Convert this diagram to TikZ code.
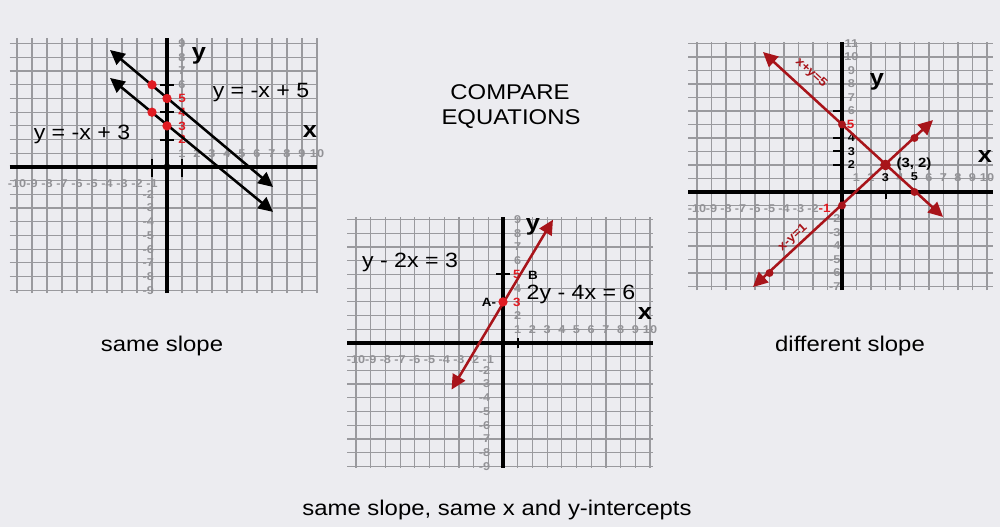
\documentclass[tikz,border=0pt]{standalone}
\usepackage{fontspec}
\setmainfont{Liberation Sans}[FakeStretch=1.12]
\usetikzlibrary{arrows.meta}
\definecolor{bg}{HTML}{ECECF0}
\definecolor{gridc}{HTML}{9A9A9E}
\definecolor{lbl}{HTML}{929296}
\definecolor{dred}{HTML}{A8141A}
\definecolor{bred}{HTML}{E01B22}
\tikzset{
  gridline/.style={gridc, line width=0.9pt},
  axisline/.style={black, line width=2.3pt},
  tickmark/.style={black, line width=1.5pt},
  numlbl/.style={text=lbl, font=\fontsize{8.5}{9}\selectfont\bfseries, inner sep=0pt},
  eqlbl/.style={font=\fontsize{15.5}{17}\selectfont, inner sep=0pt, anchor=base},
  axlbl/.style={font=\fontsize{17}{18}\selectfont\bfseries, inner sep=0pt, anchor=base},
  caption/.style={font=\fontsize{16}{18}\selectfont, inner sep=0pt, anchor=base},
  gline/.style={line width=1.9pt, {Triangle[length=11pt,width=10.5pt]}-{Triangle[length=11pt,width=10.5pt]}},
  rdot/.style={circle, fill=bred, inner sep=0pt, minimum size=7pt},
  ddot/.style={circle, fill=dred, inner sep=0pt, minimum size=6pt},
  smallbold/.style={font=\fontsize{9}{10}\selectfont\bfseries, inner sep=0pt},
  redlbl/.style={numlbl, text=bred, font=\fontsize{9}{10}\selectfont\bfseries},
  blklbl/.style={numlbl, text=black, font=\fontsize{8.5}{9}\selectfont\bfseries},
}
\begin{document}
\begin{tikzpicture}[x=0.75pt,y=-0.75pt]
\fill[bg] (0,0) rectangle (1000,527);
\useasboundingbox (0,0) rectangle (1000,527);

% ---------- Graph 1 ----------
\begin{scope}[shift={(167,167)}, x=11.25pt, y=10.275pt]
  \foreach \i in {-10,...,10} \draw[gridline] (\i,-9.2) -- (\i,9.42);
  \foreach \j in {-9,...,9} \draw[gridline] (-10.5,\j) -- (10,\j);
  \draw[axisline] (-10.5,0) -- (10,0);
  \draw[axisline] (0,-9.2) -- (0,9.42);
  \foreach \i in {1,...,10} \node[numlbl] (g1px\i) at (\i,1.0) {\i};
  \foreach \i in {-10,...,-1} \node[numlbl] (g1nx\i) at (\i,-1.2) {\i};
  \foreach \j in {6,...,9} \node[numlbl] (g1py\j) at (1.0,\j) {\j};
  \foreach \j in {-9,...,-2} \node[numlbl] (g1ny\j) at (-1.25,\j) {\j};
  \foreach \j in {2,...,5} \node[redlbl] (g1ry\j) at (1.0,\j) {\j};
  \foreach \j in {2,4,6} \draw[tickmark] (-0.5,\j) -- (0.45,\j);
  \foreach \i in {-1,1} \draw[tickmark] (\i,-0.7) -- (\i,0.6);
  \fill[black] (0,0) circle (0.25);
  \coordinate (a1s) at (-3.8,8.54);
  \coordinate (a1e) at (7.07,-1.46);
  \coordinate (b1s) at (-3.8,6.5);
  \coordinate (b1e) at (7.07,-3.28);
  \draw[gline, black] (a1s) -- (a1e);
  \draw[gline, black] (b1s) -- (b1e);
  \node[rdot] (d1a) at (-1,6) {};
  \node[rdot] (d1b) at (0,5) {};
  \node[rdot] (d1c) at (-1,4) {};
  \node[rdot] (d1d) at (0,3) {};
\end{scope}
\node[axlbl] (g1y) at (199,60) {y};
\node[axlbl] (g1x) at (310,138) {x};
\node[eqlbl] (eq1) at (261,98) {y = -x + 5};
\node[eqlbl] (eq2) at (82,140) {y = -x + 3};
\node[caption] (cap1) at (162,352) {same slope};

% ---------- Graph 2 ----------
\begin{scope}[shift={(503,343)}, x=11.025pt, y=10.275pt]
  \foreach \i in {-10,...,10} \draw[gridline] (\i,-9.1) -- (\i,9.2);
  \foreach \j in {-9,...,9} \draw[gridline] (-10.6,\j) -- (10.2,\j);
  \draw[axisline] (-10.6,0) -- (10.2,0);
  \draw[axisline] (0,-9.1) -- (0,9.2);
  \foreach \i in {1,...,10} \node[numlbl] (g2px\i) at (\i,1.0) {\i};
  \foreach \i in {-10,...,-1} \node[numlbl] (g2nx\i) at (\i,-1.2) {\i};
  \foreach \j in {2,4,6,7,8,9} \node[numlbl] (g2py\j) at (1.0,\j) {\j};
  \foreach \j in {-9,...,-2} \node[numlbl] (g2ny\j) at (-1.25,\j) {\j};
  \foreach \j in {3,5} \node[redlbl] (g2ry\j) at (0.95,\j) {\j};
  \draw[tickmark] (-0.45,5) -- (0.5,5);
  \draw[tickmark] (1,-0.4) -- (1,0.35);
  \coordinate (l2s) at (-3.5,-3.4);
  \coordinate (l2e) at (3.4,9.0);
  \draw[gline, dred] (l2s) -- (l2e);
  \node[rdot] (d2a) at (0,3) {};
\end{scope}
\node[smallbold] (ptA) at (489,302) {A-};
\node[smallbold] (ptB) at (533,275) {B};
\node[axlbl] (g2y) at (533,231) {y};
\node[axlbl] (g2x) at (645,320) {x};
\node[eqlbl] (eq3) at (410,268) {y - 2x = 3};
\node[eqlbl] (eq4) at (581,300) {2y - 4x = 6};
\node[caption] (cap2) at (497,515) {same slope, same x and y-intercepts};

% ---------- Graph 3 ----------
\begin{scope}[shift={(842,192)}, x=10.875pt, y=10.125pt]
  \foreach \i in {-10,...,10} \draw[gridline] (\i,-7.26) -- (\i,11.1);
  \foreach \j in {-7,...,11} \draw[gridline] (-10.6,\j) -- (10.4,\j);
  \draw[axisline] (-10.6,0) -- (10.4,0);
  \draw[axisline] (0,-7.26) -- (0,11.1);
  \foreach \i in {1,2,4,6,7,8,9,10} \node[numlbl] (g3px\i) at (\i,1.1) {\i};
  \foreach \i in {3,5} \node[blklbl] (g3bx\i) at (\i,1.1) {\i};
  \foreach \i in {-10,...,-2} \node[numlbl] (g3nx\i) at (\i,-1.2) {\i};
  \node[redlbl] (g3rx) at (-1.2,-1.2) {-1};
  \foreach \j in {6,...,11} \node[numlbl] (g3py\j) at (0.65,\j) {\j};
  \foreach \j in {2,3,4} \node[blklbl] (g3by\j) at (0.65,\j) {\j};
  \node[redlbl] (g3ry) at (0.6,5) {5};
  \foreach \j in {-7,...,-2} \node[numlbl] (g3ny\j) at (-0.5,\j) {\j};
  \foreach \j in {2,3,4,6} \draw[tickmark] (-0.6,\j) -- (0.1,\j);
  \draw[tickmark] (3,-0.5) -- (3,0.1);
  \coordinate (p3s) at (-5.45,10.37);
  \coordinate (p3e) at (6.97,-1.85);
  \coordinate (q3s) at (-6.14,-7.04);
  \coordinate (q3e) at (6.28,5.33);
  \draw[gline, dred] (p3s) -- (p3e);
  \draw[gline, dred] (q3s) -- (q3e);
  \node[ddot] (d3a) at (0,5) {};
  \node[ddot, minimum size=8pt] (d3b) at (3,2) {};
  \node[ddot] (d3c) at (5,0) {};
  \node[ddot] (d3d) at (0,-1) {};
  \node[ddot] (d3e) at (5,4) {};
  \node[ddot] (d3f) at (-5,-6) {};
\end{scope}
\node[smallbold, text=dred, rotate=-42.5] (eq5) at (811,73) {x+y=5};
\node[smallbold, text=dred, rotate=42.8] (eq6) at (793,238) {x-y=1};
\node[font=\fontsize{10}{11}\selectfont\bfseries, inner sep=0pt] (pt32) at (914,164) {(3, 2)};
\node[axlbl] (g3y) at (877,86) {y};
\node[axlbl] (g3x) at (985,163) {x};
\node[caption] (cap3) at (850,352) {different slope};

% ---------- Title ----------
\node[caption] (t1) at (510,100) {COMPARE};
\node[caption] (t2) at (511,125) {EQUATIONS};
\end{tikzpicture}
\end{document}
